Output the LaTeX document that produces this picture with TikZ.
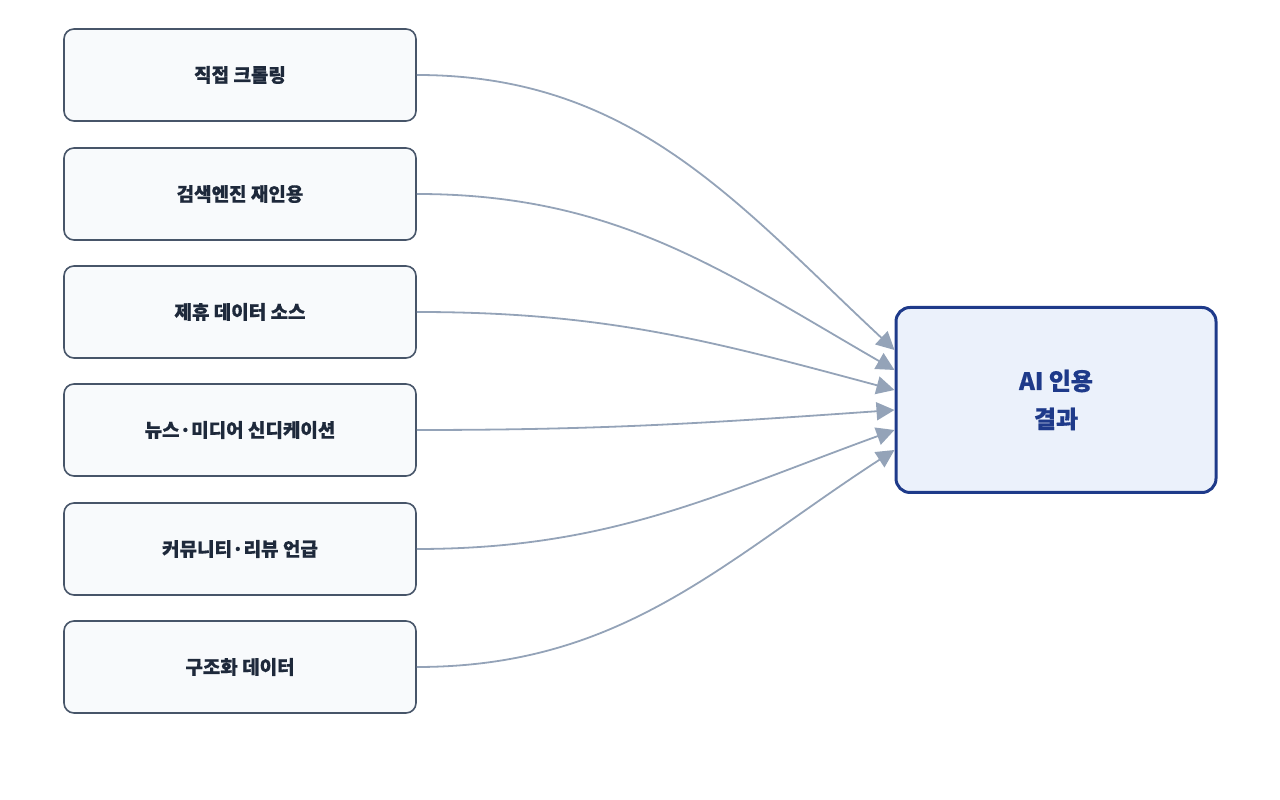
\documentclass[tikz,border=0pt]{standalone}
\usepackage{fontspec}
\setmainfont{Noto Sans CJK KR}[FakeBold=0.6]
\usepackage{tikz}
\usetikzlibrary{arrows.meta,positioning}
\definecolor{srcfill}{HTML}{F8FAFC}
\definecolor{srcline}{HTML}{475569}
\definecolor{srctext}{HTML}{1E293B}
\definecolor{aifill}{HTML}{EBF1FB}
\definecolor{ailine}{HTML}{1E3A8A}
\definecolor{flow}{HTML}{94A3B8}
\tikzset{
  source/.style={draw=srcline,fill=srcfill,line width=1.6pt,rounded corners=10pt,
    minimum width=352pt,minimum height=92pt,text=srctext,font=\fontsize{19}{22}\selectfont\bfseries},
  result/.style={draw=ailine,fill=aifill,line width=3pt,rounded corners=14pt,
    minimum width=320pt,minimum height=185pt,text=ailine,align=center,
    font=\fontsize{24}{38}\selectfont\bfseries},
  feed/.style={draw=flow,line width=1.8pt,-{Triangle[length=18pt,width=18pt]}}
}
\begin{document}
\begin{tikzpicture}[x=1pt,y=1pt]
\useasboundingbox (0,0) rectangle (1280,800);

\node[source] (s1) at (240,725) {직접 크롤링};
\node[source] (s2) at (240,606) {검색엔진 재인용};
\node[source] (s3) at (240,488) {제휴 데이터 소스};
\node[source] (s4) at (240,370) {뉴스·미디어 신디케이션};
\node[source] (s5) at (240,251) {커뮤니티·리뷰 언급};
\node[source] (s6) at (240,133) {구조화 데이터};

\node[result] (ai) at (1056,400) {AI 인용\\결과};

% entry points on the result box
\foreach \i/\dy in {1/50,2/30,3/10,4/-10,5/-30,6/-50}
  \coordinate (e\i) at ([yshift=\dy pt]ai.west);

\foreach \i/\ang in {1/137,2/150,3/165,4/184,5/200,6/213}
  \draw[feed] (s\i.east) to[out=0,in=\ang] (e\i);

\end{tikzpicture}
\end{document}
